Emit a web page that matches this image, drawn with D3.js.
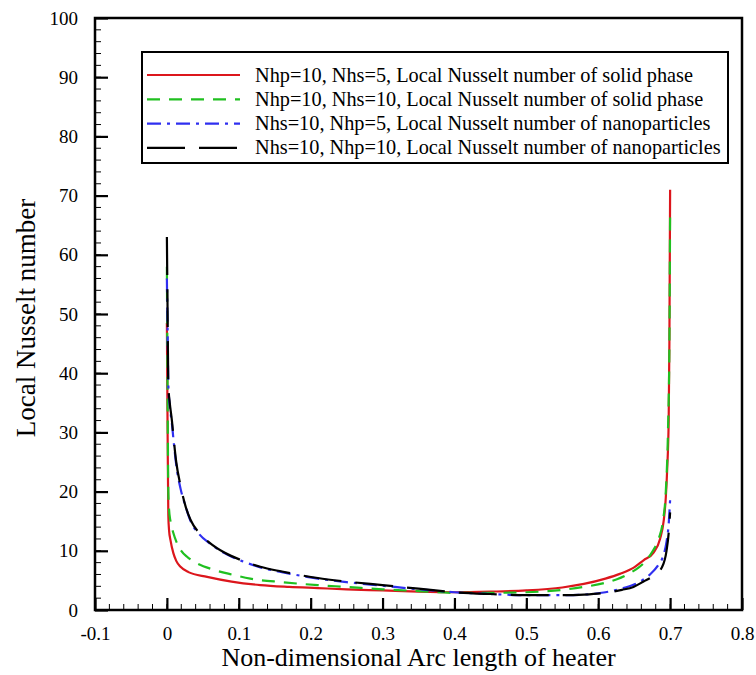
<html>
<head>
<meta charset="utf-8">
<script src="https://d3js.org/d3.v7.min.js"></script>
<style>
  body { margin: 0; background: #fff; }
  text { font-family: "Liberation Serif", "Times New Roman", serif; fill: #000; }
</style>
</head>
<body>
<svg id="chart" width="756" height="675"></svg>
<script>
// data
const xTicks = [-0.1, 0, 0.1, 0.2, 0.3, 0.4, 0.5, 0.6, 0.7, 0.8];
const xTickLabels = ["-0.1", "0", "0.1", "0.2", "0.3", "0.4", "0.5", "0.6", "0.7", "0.8"];
const yTicks = [0, 10, 20, 30, 40, 50, 60, 70, 80, 90, 100];

const redX = [0, 0.001, 0.002, 0.003, 0.005, 0.009, 0.013, 0.019, 0.03, 0.056, 0.09, 0.13, 0.17, 0.21, 0.25, 0.3, 0.35, 0.4, 0.45, 0.5, 0.55, 0.58, 0.61, 0.63, 0.65, 0.663, 0.677, 0.686, 0.691, 0.694, 0.696, 0.698, 0.699, 0.7];
const redY = [48.5, 30, 16, 13.5, 11.8, 9.6, 8.3, 7.3, 6.4, 5.6, 4.8, 4.2, 3.9, 3.7, 3.5, 3.3, 3.1, 3.0, 3.1, 3.3, 3.8, 4.4, 5.3, 6.1, 7.2, 8.4, 9.7, 12, 15, 19, 24, 32, 45, 71];

const greenX = [0, 0.001, 0.002, 0.003, 0.005, 0.009, 0.014, 0.02, 0.028, 0.04, 0.065, 0.09, 0.116, 0.16, 0.21, 0.25, 0.3, 0.35, 0.4, 0.45, 0.5, 0.55, 0.58, 0.61, 0.626, 0.645, 0.663, 0.675, 0.684, 0.69, 0.694, 0.697, 0.699, 0.7];
const greenY = [58, 36, 20, 17, 15, 13, 11.3, 10, 9, 8, 6.8, 6, 5.3, 4.7, 4.2, 3.9, 3.5, 3.2, 2.9, 2.9, 3.0, 3.4, 3.9, 4.6, 5.2, 6.3, 7.9, 9.8, 12, 15, 20, 30, 45, 67.5];

const blueX = [0, 0.001, 0.002, 0.004, 0.007, 0.009, 0.013, 0.019, 0.026, 0.033, 0.045, 0.06, 0.08, 0.106, 0.13, 0.16, 0.21, 0.25, 0.3, 0.35, 0.4, 0.45, 0.5, 0.55, 0.58, 0.61, 0.635, 0.655, 0.672, 0.683, 0.69, 0.695, 0.698, 0.7];
const blueY = [56, 47, 38, 34.5, 31.5, 29, 24.5, 20.5, 17.5, 15, 12.8, 11.2, 9.6, 8.2, 7.2, 6.4, 5.3, 4.7, 4.1, 3.5, 3.0, 2.7, 2.5, 2.5, 2.6, 3.0, 3.7, 4.6, 6, 7.5, 9, 11.5, 14.5, 18.6];

const blackX = [0, 0.001, 0.002, 0.004, 0.007, 0.009, 0.013, 0.019, 0.026, 0.033, 0.045, 0.06, 0.08, 0.106, 0.13, 0.16, 0.21, 0.25, 0.3, 0.35, 0.4, 0.45, 0.5, 0.55, 0.58, 0.61, 0.633, 0.649, 0.663, 0.677, 0.689, 0.695, 0.698, 0.7];
const blackY = [63, 50, 38, 35, 32, 29.5, 25, 21, 17.5, 15.2, 13, 11.3, 9.7, 8.3, 7.3, 6.5, 5.4, 4.8, 4.2, 3.6, 3.0, 2.7, 2.5, 2.5, 2.6, 2.9, 3.4, 3.9, 4.8, 5.8, 7.3, 10, 13, 16.5];

const seriesNames = [
  "Nhp=10, Nhs=5, Local Nusselt number of solid phase",
  "Nhp=10, Nhs=10, Local Nusselt number of solid phase",
  "Nhs=10, Nhp=5, Local Nusselt number of nanoparticles",
  "Nhs=10, Nhp=10, Local Nusselt number of nanoparticles"
];

const series = [
  { name: seriesNames[0], xs: redX, ys: redY, color: "#dc161c", dash: null },
  { name: seriesNames[1], xs: greenX, ys: greenY, color: "#20c020", dash: "13,9" },
  { name: seriesNames[2], xs: blueX, ys: blueY, color: "#2f2ff0", dash: "14,6,3,6" },
  { name: seriesNames[3], xs: blackX, ys: blackY, color: "#000", dash: "38,14" }
];

const svg = d3.select("#chart");
const margin = { top: 18, right: 14, bottom: 65, left: 95 };
const plotW = 756 - margin.left - margin.right;
const plotH = 675 - margin.top - margin.bottom;

const x = d3.scaleLinear().domain([-0.1, 0.8]).range([0, plotW]);
const y = d3.scaleLinear().domain([0, 100]).range([plotH, 0]);

const g = svg.append("g").attr("transform", `translate(${margin.left},${margin.top})`);

// minor ticks
const xMinor = d3.range(-0.1, 0.8001, 0.02);
const yMinor = d3.range(0, 100.001, 2);

g.append("g").selectAll("line").data(xMinor).join("line")
  .attr("x1", d => x(d)).attr("x2", d => x(d))
  .attr("y1", plotH).attr("y2", plotH - 6)
  .attr("stroke", "#000").attr("stroke-width", 1);

g.append("g").selectAll("line").data(yMinor).join("line")
  .attr("x1", 0).attr("x2", 6)
  .attr("y1", d => y(d)).attr("y2", d => y(d))
  .attr("stroke", "#000").attr("stroke-width", 1);

// major ticks via axes (inward)
const xAxis = d3.axisBottom(x).tickValues(xTicks).tickSize(-12).tickPadding(17)
  .tickFormat((d, i) => xTickLabels[i]);
const gx = g.append("g").attr("transform", `translate(0,${plotH})`).call(xAxis);
gx.select(".domain").remove();
gx.selectAll("line").attr("stroke-width", 2.2);
gx.selectAll("text").style("font-size", "19px").attr("font-family", null);

const yAxis = d3.axisLeft(y).tickValues(yTicks).tickSize(-13).tickPadding(17);
const gy = g.append("g").call(yAxis);
gy.select(".domain").remove();
gy.selectAll("line").attr("stroke-width", 2.2);
gy.selectAll("text").style("font-size", "19px").attr("font-family", null);

// frame
g.append("rect").attr("x", 0).attr("y", 0).attr("width", plotW).attr("height", plotH)
  .attr("fill", "none").attr("stroke", "#000").attr("stroke-width", 2.5);

// curves
const line = d3.line().curve(d3.curveMonotoneX)
  .x(d => x(d[0])).y(d => y(d[1]));

series.forEach(s => {
  const pts = s.xs.map((v, i) => [v, s.ys[i]]);
  g.append("path").datum(pts)
    .attr("d", line)
    .attr("fill", "none")
    .attr("stroke", s.color)
    .attr("stroke-width", 2.2)
    .attr("stroke-dasharray", s.dash);
});

// legend
const legend = svg.append("g").attr("transform", "translate(142,52)");
legend.append("rect").attr("x", 0).attr("y", 0).attr("width", 586).attr("height", 111)
  .attr("fill", "#fff").attr("stroke", "#000").attr("stroke-width", 2);
series.forEach((s, i) => {
  const yy = 23 + i * 24.3;
  legend.append("line").attr("x1", 5).attr("x2", 98).attr("y1", yy).attr("y2", yy)
    .attr("stroke", s.color).attr("stroke-width", 2.2).attr("stroke-dasharray", s.dash);
  legend.append("text").attr("x", 113).attr("y", yy + 6.5).style("font-size", "20.3px").text(s.name);
});

// axis titles
svg.append("text").attr("x", margin.left + x(0.35)).attr("y", 666)
  .attr("text-anchor", "middle").style("font-size", "26px")
  .text("Non-dimensional Arc length of heater");
svg.append("text").attr("transform", "translate(35,318) rotate(-90)")
  .attr("text-anchor", "middle").style("font-size", "27px")
  .text("Local Nusselt number");
</script>
</body>
</html>
